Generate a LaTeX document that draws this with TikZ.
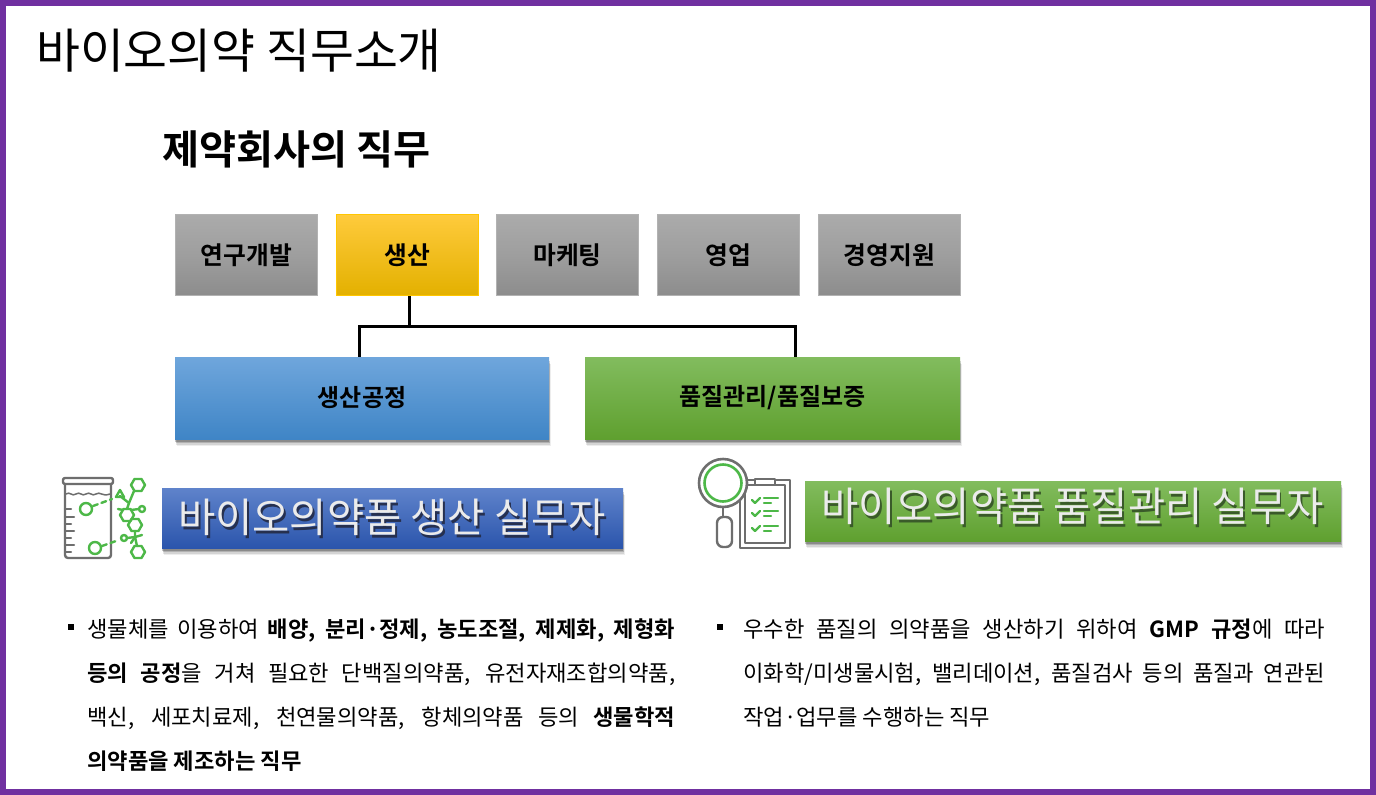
\documentclass[tikz,border=0pt]{standalone}
\usepackage{fontspec}
\setmainfont{Noto Sans CJK KR}[BoldFont={Noto Sans CJK KR Bold}]
\usetikzlibrary{shadows,calc}
\newcommand{\fsz}[1]{\fontsize{#1pt}{#1pt}\selectfont}
\newcommand{\jline}[1]{\hbox to 588pt{#1}}
\newcommand{\shadowtext}[2]{\rlap{\smash{\hspace{2pt}\raisebox{-3.5pt}{\textcolor{#1}{#2}}}}#2}
\definecolor{purp}{HTML}{7030A0}
\definecolor{icongray}{HTML}{6E6E6E}
\definecolor{icongreen}{HTML}{4DB848}
\definecolor{bshade}{HTML}{26304F}
\definecolor{gshade}{HTML}{3A5A2A}
\tikzset{
 x=1pt,y=-1pt,
 sh/.style={
  drop shadow={fill=black,opacity=.07,shadow xshift=1.5pt,shadow yshift=-7pt},
  drop shadow={fill=black,opacity=.10,shadow xshift=1.2pt,shadow yshift=-5.5pt},
  drop shadow={fill=black,opacity=.16,shadow xshift=.8pt,shadow yshift=-4pt},
  drop shadow={fill=black,opacity=.22,shadow xshift=.4pt,shadow yshift=-2.5pt}},
 topbox/.style={minimum width=142.2pt,minimum height=81.2pt,inner sep=0pt,font=\fsz{24.8}\bfseries,draw=#1,line width=.8pt},
 graybox/.style={topbox=black!30,top color=black!33,bottom color=black!45,middle color=black!38},
 subbox/.style={minimum height=82pt,inner sep=0pt,font=\fsz{24}\bfseries,sh},
 band/.style={minimum height=60pt,inner sep=0pt,sh},
 bandtext/.style={font=\fsz{40.5},inner sep=0pt,anchor=west,text=black!8},
 conn/.style={draw=black,line width=3pt},
 para/.style={font=\fsz{22.2},inner sep=0pt,anchor=north west,align=left},
 bulletmark/.style={fill=black,minimum size=6pt,inner sep=0pt},
 igray/.style={draw=icongray,line width=2.4pt,line cap=round,line join=round},
 igreen/.style={draw=icongreen,line width=2.4pt,line cap=round,line join=round},
}
\definecolor{bl1}{HTML}{6FA6DC}\definecolor{bl2}{HTML}{4F97DC}\definecolor{bl3}{HTML}{3F85C6}
\definecolor{gr1}{HTML}{82BC5E}\definecolor{gr2}{HTML}{6FAE45}\definecolor{gr3}{HTML}{5FA02F}
\definecolor{yl1}{HTML}{FFCB3C}\definecolor{yl2}{HTML}{FFC600}\definecolor{yl3}{HTML}{E3B000}
\definecolor{bb1}{HTML}{5F83CB}\definecolor{bb2}{HTML}{3B68C0}\definecolor{bb3}{HTML}{2B55AC}
\begin{document}
\begin{tikzpicture}
\useasboundingbox (0,0) rectangle (1376,795);
\fill[white] (0,0) rectangle (1376,795);
\draw[purp,line width=6pt] (3,3) rectangle (1373,792);

\node[inner sep=0pt,anchor=west,font=\fsz{47.7}] (title) at (36,51) {바이오의약 직무소개};
\node[inner sep=0pt,anchor=west,font=\fsz{40.3}\bfseries] (sub) at (162,149) {제약회사의 직무};

\node[graybox] (rd) at (246.5,255) {연구개발};
\node[topbox=yl2,top color=yl1,middle color=yl2,bottom color=yl3] (mfg) at (407.5,255) {생산};
\node[graybox] (mkt) at (567.5,255) {마케팅};
\node[graybox] (sales) at (728.5,255) {영업};
\node[graybox] (mgmt) at (889.5,255) {경영지원};

\node[subbox,minimum width=374pt,top color=bl1,middle color=bl2,bottom color=bl3] (proc) at (362,398) {생산공정};
\node[subbox,minimum width=375pt,top color=gr1,middle color=gr2,bottom color=gr3] (qc) at (772.5,398) {품질관리/품질보증};

\coordinate (busL) at (359,326);
\coordinate (busR) at (795,326);
\coordinate (busM) at (409,326);
\draw[conn] (proc.north -| busL) -- (busL) -- (busR) -- (qc.north -| busR);
\draw[conn] (mfg.south -| busM) -- (busM);

% beaker icon
\draw[igray,rounded corners=2pt] (63,478) rectangle (113,484);
\draw[igray,rounded corners=3pt] (65,484) -- (65,558) -- (111,558) -- (111,484);
\draw[igray,line width=1.5pt] (66,494) .. controls (70,491) and (72,497) .. (76,494) .. controls (80,491) and (82,497) .. (86,494) .. controls (90,491) and (92,497) .. (96,494) .. controls (100,491) and (102,497) .. (110,494);
\foreach \yy/\xx in {509/71,517/74,524/71,531/74,538/71,545/74,552/71}
  \draw[igray] (65,\yy) -- (\xx,\yy);
\draw[igreen] (86,509) circle (6);
\draw[igreen] (95,548) circle (6);
\draw[igreen,dash pattern=on 5pt off 4pt] (93,506) -- (112,499);
\draw[igreen,dash pattern=on 5pt off 4pt] (102,546) -- (116,541);
\foreach \cx/\cy in {138/485,127/515,135/525,138/552}
  \draw[igreen] (\cx-7,\cy) -- (\cx-3.5,\cy-6) -- (\cx+3.5,\cy-6) -- (\cx+7,\cy) -- (\cx+3.5,\cy+6) -- (\cx-3.5,\cy+6) -- cycle;
\draw[igreen] (134,491) -- (129,503) -- (127,509);
\draw[igreen] (120,496) -- (129,503);
\draw[igreen] (116,497) -- (120,490) -- (124,497) -- cycle;
\draw[igreen] (118,509) -- (123,510);
\draw[igreen] (131,510) -- (139,509);
\draw[igreen] (142,509) circle (3);
\draw[igreen] (124,538) circle (3);
\draw[igreen] (127,538) -- (135,537) -- (137,546);
\draw[igreen] (135,531) -- (135,537) -- (142,535);
\draw[igreen] (131,543) -- (135,537);

% magnifier icon
\draw[igray,line width=2.4pt] (740,480) rectangle (790,548);
\draw[igray,line width=1.6pt] (745,485) rectangle (785,543);
\draw[igray,fill=white,line width=1.5pt] (755,479) rectangle (775,485);
\foreach \yy in {500,513,528}{
  \draw[igreen] (752,\yy) -- (755,\yy+3) -- (760,\yy-2);
  \draw[igreen] (764,\yy-2) -- (778,\yy-2);
  \draw[igreen] (764,\yy+3) -- (771,\yy+3);
}
\draw[igray,fill=white,line width=2.6pt] (723,483) circle (24);
\draw[icongreen,line width=2.6pt,fill=white] (723,483) circle (18.5);
\draw[igray] (723,507) -- (723,517);
\draw[igray,fill=white,rounded corners=6pt] (717,517) rectangle (732,547);

% bands
\node[band,minimum width=461pt,top color=bb1,middle color=bb2,bottom color=bb3] (b1) at (392.5,518) {};
\node[bandtext] (b1t) at ($(b1.west)+(16,-1)$) {\shadowtext{bshade}{바이오의약품 생산 실무자}};
\node[band,minimum width=536pt,top color=gr1,middle color=gr2,bottom color=gr3] (b2) at (1073,511) {};
\node[bandtext] (b2t) at ($(b2.west)+(16,-5)$) {\shadowtext{gshade}{바이오의약품 품질관리 실무자}};

% text
\node[bulletmark] (bl) at (71,627) {};
\node[bulletmark] (br) at (720,627) {};
\node[para] (ltext) at (87,619) {\baselineskip=44pt\lineskiplimit=-20pt\vbox{
\jline{생물체를 이용하여 \textbf{배양, 분리·정제, 농도조절, 제제화, 제형화}}
\jline{\textbf{등의 공정}을 거쳐 필요한 단백질의약품, 유전자재조합의약품,}
\jline{백신, 세포치료제, 천연물의약품, 항체의약품 등의 \textbf{생물학적}}
\hbox{\textbf{의약품을 제조하는 직무}}}};
\node[para] (rtext) at (743,619) {\baselineskip=44pt\lineskiplimit=-20pt\vbox{
\hbox to 582pt{우수한 품질의 의약품을 생산하기 위하여 \textbf{GMP 규정}에 따라}
\hbox to 582pt{이화학/미생물시험, 밸리데이션, 품질검사 등의 품질과 연관된}
\hbox{작업·업무를 수행하는 직무}}};
\end{tikzpicture}
\end{document}
